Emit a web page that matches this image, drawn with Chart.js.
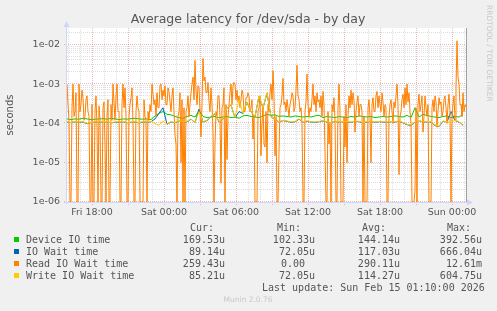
<!DOCTYPE html>
<html>
<head>
<meta charset="utf-8">
<script src="https://cdn.jsdelivr.net/npm/chart.js@4.4.1/dist/chart.umd.min.js"></script>
<style>
  html, body { margin: 0; padding: 0; background: #f0f0f0; }
</style>
</head>
<body>
<canvas id="chart" width="497" height="311"></canvas>
<script>
// time axis in hours, relative to Sat 00:00
const startHour = -8 - 5 / 60;   // Fri 15:55
const endHour = 25 + 10 / 60;    // Sun 01:10
const yMin = 1e-6;
const yMax = 0.0267;

const xTickHours = [-6, 0, 6, 12, 18, 24];
const xTickLabels = ['Fri 18:00', 'Sat 00:00', 'Sat 06:00', 'Sat 12:00', 'Sat 18:00', 'Sun 00:00'];
const yTickValues = [1e-6, 1e-5, 1e-4, 1e-3, 1e-2];
const yTickLabels = ['1e-06', '1e-05', '1e-04', '1e-03', '1e-02'];

// values in microseconds
// read series: one value every 5 min
const readIO = [
  1000, 300, 120, 0, 0, 250, 1000, 150, 200, 600, 0, 0, 1000, 200, 300, 700, 450, 120, 150, 400,
  500, 200, 150, 0, 0, 300, 0, 0, 200, 500, 80, 0, 280, 120, 0, 0, 250, 350, 30, 0,
  150, 400, 0, 0, 300, 120, 1000, 350, 120, 500, 1000, 200, 200, 0, 0, 300, 1000, 250, 800, 150,
  0, 0, 150, 300, 450, 800, 100, 0, 0, 200, 500, 250, 200, 0, 0, 0, 0, 400, 150, 120,
  0, 200, 120, 300, 200, 1000, 550, 300, 400, 150, 600, 250, 250, 900, 1000, 400, 700, 500, 900, 300,
  300, 800, 650, 350, 200, 500, 800, 200, 50, 30, 0, 150, 200, 600, 10, 400, 0, 250, 0, 200,
  250, 500, 150, 300, 600, 1000, 1500, 400, 4000, 700, 300, 900, 800, 200, 45, 300, 4500, 1200, 1500, 600,
  600, 1100, 350, 200, 800, 300, 60, 0, 30, 200, 150, 500, 500, 150, 3, 250, 300, 800, 0, 300,
  12, 150, 300, 600, 1000, 300, 900, 1100, 1000, 400, 700, 350, 500, 250, 400, 700, 550, 200, 200, 450,
  450, 600, 500, 200, 250, 400, 40, 150, 0, 0, 0, 200, 250, 500, 15, 100, 300, 30, 25, 200,
  10, 300, 200, 600, 1000, 400, 2200, 500, 15, 150, 0, 0, 20, 250, 300, 500, 1400, 300, 350, 200,
  400, 250, 150, 300, 400, 600, 500, 200, 250, 700, 3000, 500, 400, 200, 250, 100, 0, 0, 200, 350,
  1800, 300, 150, 250, 200, 400, 1000, 300, 500, 200, 600, 350, 400, 250, 500, 150, 650, 300, 20, 0,
  0, 200, 30, 100, 0, 300, 200, 450, 120, 0, 0, 250, 1000, 200, 0, 0, 0, 150, 25, 300,
  10, 150, 500, 250, 700, 300, 600, 400, 60, 200, 350, 500, 150, 300, 300, 200, 0, 150, 0, 0,
  0, 250, 400, 150, 10, 300, 450, 200, 200, 500, 650, 250, 500, 300, 200, 600, 350, 150, 300, 250,
  0, 0, 150, 300, 400, 200, 100, 350, 250, 500, 1000, 300, 5, 150, 200, 400, 550, 250, 800, 300,
  1000, 350, 600, 200, 100, 0, 0, 0, 2, 250, 0, 300, 550, 200, 300, 500, 60, 150, 500, 250,
  150, 300, 0, 0, 0, 250, 400, 200, 500, 350, 80, 200, 450, 300, 350, 150, 200, 400, 500, 250,
  100, 300, 550, 200, 0, 150, 300, 500, 120, 800, 12610, 1500, 1000, 300, 300, 150, 600, 200, 300, 259
];

// other series: one value every 20 min
const deviceIO = [
  130, 125, 130, 128, 135, 130, 125, 128, 130, 132,
  128, 135, 130, 125, 130, 128, 132, 135, 130, 128,
  130, 125, 155, 180, 200, 170, 165, 150, 140, 135,
  150, 160, 145, 210, 150, 140, 145, 150, 140, 145,
  150, 140, 145, 135, 155, 160, 150, 145, 140, 155,
  170, 160, 165, 150, 155, 150, 145, 155, 150, 145,
  150, 145, 155, 160, 140, 150, 145, 140, 150, 145,
  140, 150, 145, 155, 150, 145, 150, 140, 145, 150,
  145, 150, 155, 150, 145, 160, 140, 250, 145, 170,
  160, 150, 145, 140, 150, 155, 140, 150, 145, 170
];
const ioWait = [
  108, 104, 110, 106, 108, 98, 104, 108, 106, 110,
  108, 103, 106, 108, 110, 103, 106, 108, 103, 108,
  106, 110, 130, 180, 250, 95, 108, 103, 118, 106,
  110, 128, 104, 230, 108, 118, 148, 175, 108, 128,
  245, 295, 138, 200, 178, 345, 198, 148, 490, 245,
  590, 148, 128, 108, 118, 113, 106, 110, 128, 108,
  113, 108, 106, 110, 116, 108, 103, 113, 108, 110,
  108, 106, 113, 110, 103, 108, 113, 106, 110, 108,
  106, 110, 108, 113, 103, 93, 88, 108, 118, 106,
  110, 108, 88, 83, 113, 108, 200, 118, 108, 89
];
const writeIO = [
  110, 105, 112, 108, 110, 100, 105, 110, 108, 112,
  110, 105, 108, 110, 112, 105, 108, 110, 105, 110,
  108, 112, 100, 90, 115, 95, 110, 105, 120, 108,
  112, 130, 105, 200, 110, 120, 150, 180, 110, 130,
  250, 300, 140, 400, 180, 350, 200, 150, 500, 250,
  605, 150, 130, 110, 120, 115, 108, 112, 130, 110,
  115, 110, 108, 112, 118, 110, 105, 115, 110, 112,
  110, 108, 115, 112, 105, 110, 115, 108, 112, 110,
  108, 112, 110, 115, 105, 95, 90, 110, 120, 108,
  112, 110, 90, 85, 115, 110, 105, 120, 110, 85
];

const seriesNames = ['Device IO time', 'IO Wait time', 'Read IO Wait time', 'Write IO Wait time'];
const seriesColors = ['#00cc00', '#0066b3', '#ff8000', '#ffcc00'];
const curVals = ['169.53u', '89.14u', '259.43u', '85.21u'];
const minVals = ['102.33u', '72.05u', '0.00', '72.05u'];
const avgVals = ['144.14u', '117.03u', '290.11u', '114.27u'];
const maxVals = ['392.56u', '666.04u', '12.61m', '604.75u'];

function toPoints(arr, stepMin) {
  // zero can't sit on a log axis, rrdtool puts it on the floor
  return arr.map((v, i) => ({ x: startHour + i * stepMin / 60, y: Math.max(v * 1e-6, yMin) }));
}

const majorGrid = 'rgba(210, 80, 80, 0.4)';
const minorGrid = 'rgba(160, 160, 160, 0.35)';

const muninLook = {
  id: 'muninLook',
  beforeDraw(chart) {
    const { ctx, chartArea: a } = chart;
    ctx.save();
    ctx.fillStyle = '#f0f0f0';
    ctx.fillRect(0, 0, chart.width, chart.height);
    ctx.fillStyle = '#ffffff';
    ctx.fillRect(a.left, a.top, a.right - a.left, a.bottom - a.top);
    ctx.restore();
  },
  beforeDatasetsDraw(chart) {
    const { ctx, chartArea: a, scales } = chart;
    const xs = scales.x, ys = scales.y;
    ctx.save();
    ctx.lineWidth = 1;
    ctx.setLineDash([1, 1]);
    // horizontal
    for (let d = -6; d <= -2; d++) {
      for (let k = 1; k <= 9; k++) {
        const v = k * Math.pow(10, d);
        if (v > yMax) break;
        const py = Math.round(ys.getPixelForValue(v)) - 0.5;
        ctx.beginPath();
        if (k === 1) {
          ctx.strokeStyle = majorGrid;
          ctx.moveTo(a.left - 3, py);
        } else {
          ctx.strokeStyle = minorGrid;
          ctx.moveTo(a.left, py);
        }
        ctx.lineTo(a.right, py);
        ctx.stroke();
      }
    }
    // vertical
    for (let h = Math.ceil(startHour); h <= endHour; h++) {
      const px = Math.round(xs.getPixelForValue(h)) + 0.5;
      ctx.beginPath();
      if (h % 3 === 0) {
        ctx.strokeStyle = majorGrid;
        ctx.moveTo(px, a.bottom + 3);
      } else {
        ctx.strokeStyle = minorGrid;
        ctx.moveTo(px, a.bottom);
      }
      ctx.lineTo(px, a.top);
      ctx.stroke();
    }
    ctx.restore();
  },
  afterDraw(chart) {
    const { ctx, chartArea: a } = chart;
    ctx.save();
    // right frame
    ctx.strokeStyle = '#a0a0a0';
    ctx.lineWidth = 1;
    ctx.beginPath();
    ctx.moveTo(a.right + 0.5, a.top);
    ctx.lineTo(a.right + 0.5, a.bottom);
    ctx.stroke();
    // axes and arrows
    ctx.strokeStyle = '#cfd6f8';
    ctx.fillStyle = '#cfd6f8';
    ctx.beginPath();
    ctx.moveTo(a.left - 0.5, a.bottom + 2);
    ctx.lineTo(a.left - 0.5, a.top - 3);
    ctx.moveTo(a.left - 3, a.bottom + 0.5);
    ctx.lineTo(a.right + 3, a.bottom + 0.5);
    ctx.stroke();
    ctx.beginPath();
    ctx.moveTo(a.left - 0.5, a.top - 7);
    ctx.lineTo(a.left - 3.5, a.top - 1);
    ctx.lineTo(a.left + 2.5, a.top - 1);
    ctx.closePath();
    ctx.fill();
    ctx.beginPath();
    ctx.moveTo(a.right + 7, a.bottom + 0.5);
    ctx.lineTo(a.right + 1, a.bottom - 2.5);
    ctx.lineTo(a.right + 1, a.bottom + 3.5);
    ctx.closePath();
    ctx.fill();

    // title
    ctx.fillStyle = '#555';
    ctx.font = '12.5px "DejaVu Sans"';
    ctx.textAlign = 'center';
    ctx.textBaseline = 'middle';
    ctx.fillText('Average latency for /dev/sda - by day', 248, 20);

    // watermark
    ctx.save();
    ctx.translate(485.5, 5);
    ctx.rotate(Math.PI / 2);
    ctx.fillStyle = '#c8c8c8';
    ctx.font = '7.5px "DejaVu Sans"';
    ctx.textAlign = 'left';
    ctx.textBaseline = 'middle';
    ctx.fillText('RRDTOOL / TOBI OETIKER', 0, -3);
    ctx.restore();

    // legend table
    ctx.font = '10px "DejaVu Sans Mono"';
    ctx.fillStyle = '#555';
    ctx.textBaseline = 'middle';
    ctx.textAlign = 'left';
    ctx.fillText('Cur:', 190, 228);
    ctx.fillText('Min:', 277, 228);
    ctx.fillText('Avg:', 362, 228);
    ctx.fillText('Max:', 447, 228);
    for (let i = 0; i < seriesNames.length; i++) {
      const y = 240 + i * 12;
      ctx.fillStyle = seriesColors[i];
      ctx.fillRect(14, y - 3, 5, 5);
      ctx.fillStyle = '#555';
      ctx.textAlign = 'left';
      ctx.fillText(seriesNames[i], 26, y);
      ctx.textAlign = 'right';
      ctx.fillText(curVals[i], 225, y);
      ctx.fillText(minVals[i], minVals[i] === '0.00' ? 305 : 315, y);
      ctx.fillText(avgVals[i], 400, y);
      ctx.fillText(maxVals[i], 482, y);
    }
    ctx.textAlign = 'left';
    ctx.fillText('Last update: Sun Feb 15 01:10:00 2026', 262, 288);

    ctx.fillStyle = '#c8c8c8';
    ctx.font = '7.5px "DejaVu Sans"';
    ctx.textAlign = 'center';
    ctx.fillText('Munin 2.0.76', 248, 300);
    ctx.restore();
  }
};

const ctx = document.getElementById('chart').getContext('2d');
new Chart(ctx, {
  type: 'line',
  data: {
    datasets: [
      { label: seriesNames[0], data: toPoints(deviceIO, 20), borderColor: seriesColors[0], order: 4 },
      { label: seriesNames[1], data: toPoints(ioWait, 20), borderColor: seriesColors[1], order: 3 },
      { label: seriesNames[2], data: toPoints(readIO, 5), borderColor: seriesColors[2], order: 2 },
      { label: seriesNames[3], data: toPoints(writeIO, 20), borderColor: seriesColors[3], order: 1 }
    ]
  },
  options: {
    responsive: false,
    animation: false,
    events: [],
    layout: { padding: { top: 28, right: 31, left: 0, bottom: 0 } },
    elements: {
      point: { radius: 0 },
      line: { borderWidth: 1, tension: 0, fill: false }
    },
    plugins: {
      legend: { display: false },
      tooltip: { enabled: false },
      title: { display: false }
    },
    scales: {
      x: {
        type: 'linear',
        min: startHour,
        max: endHour,
        grid: { display: false, drawTicks: false },
        border: { display: false },
        afterBuildTicks: s => { s.ticks = xTickHours.map(v => ({ value: v })); },
        afterFit: s => { s.height = 109; },
        ticks: {
          autoSkip: false,
          maxRotation: 0,
          padding: 5,
          color: '#555',
          font: { family: 'DejaVu Sans', size: 9.5 },
          callback: v => xTickLabels[xTickHours.indexOf(v)]
        }
      },
      y: {
        type: 'logarithmic',
        min: yMin,
        max: yMax,
        grid: { display: false, drawTicks: false },
        border: { display: false },
        afterBuildTicks: s => { s.ticks = yTickValues.map(v => ({ value: v })); },
        afterFit: s => { s.width = 67; },
        ticks: {
          autoSkip: false,
          padding: 7,
          color: '#555',
          font: { family: 'DejaVu Sans', size: 9.5 },
          callback: v => yTickLabels[yTickValues.indexOf(v)]
        },
        title: {
          display: true,
          text: 'seconds',
          color: '#555',
          font: { family: 'DejaVu Sans', size: 10 },
          padding: { top: 4, bottom: 0 }
        }
      }
    }
  },
  plugins: [muninLook]
});
</script>
</body>
</html>
